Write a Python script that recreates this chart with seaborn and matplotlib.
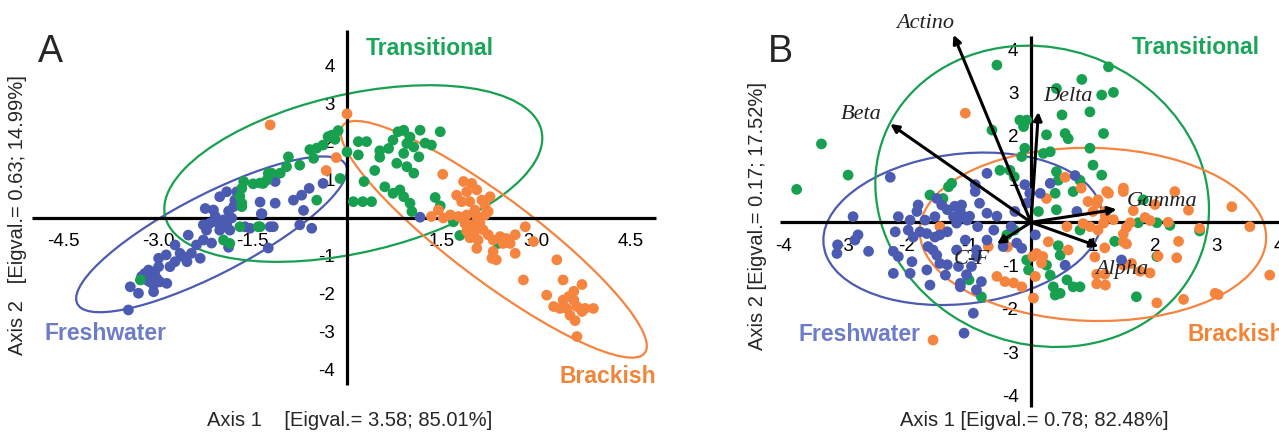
import numpy as np
import pandas as pd
import matplotlib
matplotlib.use("Agg")
import matplotlib.pyplot as plt
from matplotlib.patches import Ellipse
import seaborn as sns

sns.set_theme(style="white")
plt.rcParams['font.family'] = ['Liberation Sans', 'DejaVu Sans']
plt.rcParams['axes.unicode_minus'] = False

GROUPS = ['Freshwater', 'Transitional', 'Brackish']
DOT_COLORS = {'Freshwater': '#4c5bb2', 'Transitional': '#17a04f', 'Brackish': '#f5843f'}
NAME_COLORS = {'Freshwater': '#6d7cc6', 'Transitional': '#1aa558', 'Brackish': '#f0853a'}

# ---------------- Panel A : scores (axis 1, axis 2) ----------------
a_fresh_x = [-3.47, -3.44, -3.31, -3.26, -3.21, -3.15, -3.10, -3.05, -3.02, -3.13, -3.18, -3.07, -2.99,
             -2.97, -3.07, -2.86, -2.99, -2.87, -2.81, -2.73, -2.65, -2.73, -2.52, -2.54, -2.47, -2.60,
             -2.39, -2.33, -2.28, -2.23, -2.28, -2.18, -2.15, -2.25, -2.12, -2.09, -2.04, -2.02, -1.96,
             -1.91, -1.88, -1.83, -1.80, -1.78, -1.91, -2.02, -1.75, -1.86, -1.88, -1.62, -1.54, -1.38,
             -1.36, -1.22, -1.14, -1.25, -1.14, -0.85, -0.72, -0.60, -0.69, -0.75, -0.56, -0.38, -1.17,
             -1.35, 1.16]
a_fresh_y = [-2.42, -1.81, -1.98, -1.54, -1.46, -1.37, -1.54, -1.41, -1.59, -1.68, -1.63, -1.76, -1.28,
             -1.68, -1.94, -1.72, -1.06, -0.97, -1.28, -1.15, -0.93, -0.71, -0.45, -1.15, -0.93, -1.02,
             -0.71, -1.06, -0.58, -0.32, -0.18, -0.14, -0.66, 0.25, 0.21, 0.04, -0.14, -0.32, -0.05,
             -0.18, 0.18, 0.00, 0.30, 0.47, 0.69, 0.56, 0.69, -0.32, -0.77, -0.23, -0.27, 0.42,
             0.11, -0.23, 0.96, -0.79, 0.39, 0.47, 0.60, 0.78, 0.20, -0.18, -0.27, 0.91, -0.23,
             0.11, 0.02]

a_trans_x = [-1.49, -1.38, -1.25, -1.70, -1.67, -1.70, -1.38, -1.96, -1.86, -3.28, -0.14, -0.24, -0.19,
             -0.38, -0.48, -0.59, -0.53, -0.75, -0.93, -0.96, -1.06, -1.27, -1.33, -1.64, -1.67, -0.48,
             -1.41, -0.11, 0.00, 0.18, 0.31, 0.18, 0.10, 0.25, 0.39, 0.27, 0.44, 0.52, 0.52, 0.60,
             0.73, 0.66, 0.73, 0.81, 0.90, 0.95, 1.00, 0.90, 1.06, 1.16, 1.14, 0.95, 1.06, 0.79,
             1.24, 1.48, 0.84, 0.90, 1.00, 1.03, 1.40, 1.48, 1.69, 1.79, 2.40, 1.34, -0.30, -1.20,
             -1.67]
a_trans_y = [0.90, 0.92, 1.17, 0.57, 0.30, -0.23, -0.23, -0.58, -0.67, -1.63, 2.30, 2.18, 2.07,
             1.92, 1.84, 1.80, 1.57, 1.39, 1.61, 1.35, 1.18, 1.00, 0.91, 0.96, 0.39, 0.47,
             -0.23, 1.04, 1.74, 2.01, 2.01, 1.66, 0.43, 0.43, 0.43, 0.96, 1.25, 1.60, 1.77, 0.82,
             0.65, 1.83, 2.05, 2.27, 2.31, 1.96, 2.13, 1.70, 1.87, 2.31, 1.61, 1.35, 1.18, 1.44,
             1.97, 2.27, 0.74, 0.56, 0.39, 0.17, 0.54, 0.32, -0.10, -0.46, -0.67, 1.92, 2.14, 1.18,
             0.78]

a_brack_x = [-1.22, 0.00, -0.17, -0.33, 1.52, 1.85, 1.98, 2.06, 1.90, 1.74, 1.82, 1.95, 2.14, 2.27,
             2.19, 2.03, 2.24, 1.45, 1.34, 1.53, 1.64, 1.77, 1.90, 2.06, 2.19, 1.87, 1.98, 2.11,
             2.16, 2.03, 1.90, 1.95, 2.08, 2.06, 2.24, 2.32, 2.43, 2.53, 2.67, 2.59, 2.48, 2.83,
             2.96, 2.67, 2.32, 2.37, 2.30, 3.33, 2.80, 3.43, 3.17, 3.73, 3.60, 3.52, 3.43, 3.60,
             3.65, 3.28, 3.38, 3.49, 3.78, 3.91, 3.54, 3.62, 3.73, 3.65]
a_brack_y = [2.45, 2.74, 1.59, 1.25, 1.15, 0.96, 0.91, 0.74, 0.69, 0.60, 0.43, 0.43, 0.47, 0.56,
             0.34, 0.21, 0.17, 0.21, 0.04, 0.00, 0.08, 0.04, 0.08, 0.04, 0.08, -0.14, -0.18, -0.14,
             -0.31, -0.35, -0.35, -0.52, -0.58, -0.80, -0.44, -0.58, -0.49, -0.54, -0.44, -0.67, -0.67, -0.23,
             -0.62, -0.93, -0.88, -1.10, -1.06, -1.10, -1.63, -1.63, -2.03, -1.75, -1.93, -2.07, -2.16, -2.16,
             -2.33, -2.33, -2.38, -2.38, -2.38, -2.38, -2.56, -2.70, -2.46, -3.12]

# confidence ellipses: centre and extent matrix (sxx, syy, sxy)
a_ell_center = {'Freshwater': (-2.15, -0.43), 'Transitional': (0.10, 1.17), 'Brackish': (2.33, -0.56)}
a_ell_shape = {'Freshwater': (4.62, 4.20, 3.63), 'Transitional': (9.0, 5.4, 2.8), 'Brackish': (5.9, 9.7, -6.82)}

# ---------------- Panel B : scores ----------------
b_fresh_x = [-2.27, -2.87, -2.79, -2.84, -3.13, -2.62, -2.19, -2.14, -2.22, -2.14, -2.22, -1.95, -1.92,
             -1.98, -1.95, -1.84, -1.82, -1.90, -1.79, -1.71, -1.68, -1.66, -1.58, -1.55, -1.55, -1.52,
             -1.44, -1.35, -1.23, -1.12, -1.25, -1.09, -1.35, -1.47, -1.52, -1.68, -1.47, -1.35, -1.38,
             -1.63, -1.20, -1.06, -0.88, -0.96, -1.14, -0.90, -1.03, -3.12, -0.71, -0.90, -0.10, -0.02,
             0.15, 0.31, 0.71, 0.74, -0.07, -0.26, -0.55, -0.71, -0.83, -0.99, -1.14, -1.20, -0.86,
             -0.60, -0.32, -0.23, -0.15, -0.45, -0.71, -0.88, 0.07, 0.55, 1.46, -1.17, -1.04, -0.80,
             -0.88, -0.93, -1.14, -1.08]
b_fresh_y = [1.04, 0.13, -0.29, -0.41, -0.72, -0.67, -0.22, 0.13, -0.67, -0.79, -1.18, -1.18, -0.91,
             -0.18, 0.05, 0.25, 0.40, -0.34, -0.22, 0.05, -0.26, -0.56, -0.64, -0.34, 0.13, 0.55,
             0.40, 0.29, 0.37, 0.40, 0.13, 0.13, -0.22, -0.29, -0.76, -1.10, -0.95, -0.98, -1.22,
             -1.45, -0.64, -0.41, -0.79, -1.02, -1.41, 0.71, 0.05, -0.52, 1.13, 0.87, 0.87, 0.67,
             0.67, 0.90, 1.08, 0.25, 0.44, 0.25, 0.14, 0.21, 0.44, 0.14, 0.25, -0.02, -0.10,
             -0.18, -0.10, -0.48, -0.60, -0.56, -0.41, -0.64, -0.29, -0.99, -0.87, -1.02, -1.21, -1.37,
             -1.56, -2.10, -1.49, -2.56]

b_trans_x = [-3.38, -2.95, -3.78, -1.63, -1.33, -1.42, -1.00, -0.55, 1.25, 0.82, 0.41, 1.14, 1.33,
             0.95, 0.50, -0.18, -0.07, -0.12, -0.63, 0.25, 0.55, 0.60, 1.17, -0.10, -0.15, 0.20,
             0.31, 0.95, 1.00, 1.14, 0.41, -0.50, -0.34, -0.27, 0.44, 0.68, 0.79, 0.12, 0.39, 0.41,
             -0.27, -0.39, -0.07, -0.04, 0.25, 0.31, 0.44, 0.47, 0.36, 0.58, 0.68, 0.79, 0.47, 0.39,
             0.79, -0.80, -1.28, 1.81, 1.73, 2.03, 2.24, 1.35, 2.03, 1.70, 2.72]
b_trans_y = [1.81, 1.09, 0.76, 0.63, 0.82, 0.55, -1.33, 3.63, 3.59, 3.30, 3.09, 2.94, 3.00,
             2.55, 2.48, 2.36, 2.36, 2.21, 2.13, 2.02, 2.05, 1.93, 2.05, 1.71, 1.52, 1.59,
             1.63, 1.71, 1.32, 1.09, 1.17, 1.20, 1.20, 1.05, 0.97, 0.71, 0.97, 0.25, 0.67, 0.29,
             -0.18, -0.29, -0.87, -1.10, -0.99, -1.22, -0.54, -0.76, -1.49, -1.33, -1.49, -1.49, -1.64, -1.68,
             -0.18, -1.72, 0.90, 0.52, -0.01, -0.01, -0.07, -0.44, -0.79, -1.72, -0.20]

b_brack_x = [-1.06, 0.55, 0.81, 0.92, 1.08, 1.22, 1.49, 1.00, 1.20, 0.95, 1.08, 0.84, 0.58, 0.25,
             0.28, 0.09, 0.17, 0.07, 0.04, -0.55, -0.42, -0.28, -0.15, 0.60, 1.06, 1.20, 1.49, 1.49,
             -0.38, 2.32, 3.24, 2.54, 3.53, 2.72, 3.85, 2.97, 3.02, 2.46, 2.03, 2.38, 2.35, 2.05,
             1.92, 1.76, 1.62, 1.54, 1.49, 1.54, 1.60, 1.65, 1.84, 1.92, 2.21, 2.00, 1.49, 1.25,
             1.06, 1.19, 1.17, 1.33, 1.06, 1.19, 1.03, 1.19, -1.47, -0.69, 0.03, 0.19, -1.58]
b_brack_y = [2.52, 1.04, 0.79, 0.48, 0.52, 0.71, 0.79, 0.25, 0.14, -0.10, -0.18, -0.03, -0.10, 0.55,
             -0.45, -0.72, -0.94, -1.25, -1.75, -1.25, -1.37, -1.40, -1.49, -0.64, -1.42, -1.45, -0.99, -0.45,
             -0.57, 0.71, 0.36, 0.28, -0.10, -0.14, -1.22, -1.64, -1.67, -1.78, -1.86, -0.44, -0.82, -0.78,
             -1.17, -1.13, -0.95, -0.50, -0.27, -0.12, -0.01, 0.27, 0.11, 0.04, 0.00, 0.41, 0.71, 0.67,
             0.44, 0.25, -0.02, 0.06, -1.20, -1.20, -0.80, -0.59, -0.10, -0.56, -0.79, -0.79, -2.72]

b_ell_center = {'Freshwater': (-1.10, -0.15), 'Transitional': (0.18, 0.60), 'Brackish': (1.00, -0.28)}
b_ell_shape = {'Freshwater': (5.06, 3.10, 0.60), 'Transitional': (7.24, 12.11, -0.80), 'Brackish': (7.80, 4.00, -0.20)}

# biplot vectors (panel B)
vec_names = ['Actino', 'Beta', 'Delta', 'Gamma', 'Alpha', 'C-F']
vec_x = [-1.25, -2.27, 0.12, 1.38, 1.09, -0.55]
vec_y = [4.33, 2.27, 2.55, 0.30, -0.56, -0.50]
vec_label_x = [-1.71, -2.74, 0.59, 2.12, 1.46, -0.96]
vec_label_y = [4.60, 2.48, 2.90, 0.48, -1.10, -0.87]

W, H = 1279, 437


def make_df(xs, ys):
    parts = []
    for g, x, y in zip(GROUPS, xs, ys):
        parts.append(pd.DataFrame({'x': x, 'y': y, 'group': g}))
    return parts


def pixel_axes(fig, box, origin, scale):
    left, top, right, bottom = box
    ax = fig.add_axes([left / W, 1 - bottom / H, (right - left) / W, (bottom - top) / H])
    ox, oy = origin
    sx, sy = scale
    ax.set_xlim((left - ox) / sx, (right - ox) / sx)
    ax.set_ylim((oy - bottom) / sy, (oy - top) / sy)
    ax.patch.set_alpha(0)
    return ax


def style_axes(ax, xticks, xlabels, yticks, xbounds, ybounds):
    for s in ['top', 'right']:
        ax.spines[s].set_visible(False)
    for s in ['left', 'bottom']:
        ax.spines[s].set_position(('data', 0))
        ax.spines[s].set_linewidth(2.3)
        ax.spines[s].set_color('black')
        ax.spines[s].set_capstyle('butt')
    ax.spines['bottom'].set_bounds(*xbounds)
    ax.spines['left'].set_bounds(*ybounds)
    ax.set_xticks(xticks)
    ax.set_xticklabels(xlabels)
    ax.set_yticks(yticks)
    ax.set_yticklabels([str(v) for v in yticks])
    ax.tick_params(axis='x', length=0, pad=11, labelsize=13.5, colors='black')
    ax.tick_params(axis='y', length=0, pad=9, labelsize=13.5, colors='black')
    ax.set_xlabel('')
    ax.set_ylabel('')
    ax.grid(False)


def draw_ellipses(ax, centers, shapes):
    for g in GROUPS:
        sxx, syy, sxy = shapes[g]
        vals, vecs = np.linalg.eigh(np.array([[sxx, sxy], [sxy, syy]]))
        angle = np.degrees(np.arctan2(vecs[1, 1], vecs[0, 1]))
        e = Ellipse(centers[g], 2 * np.sqrt(vals[1]), 2 * np.sqrt(vals[0]), angle=angle,
                    fill=False, ec=DOT_COLORS[g], lw=1.6, zorder=1)
        ax.add_patch(e)


fig = plt.figure(figsize=(W / 100, H / 100), dpi=100)
fig.patch.set_facecolor('white')

# ---- Panel A ----
axA = pixel_axes(fig, (30, 5, 672, 405), (347, 218), (63, 38))
fa, ta, ba = make_df([a_fresh_x, a_trans_x, a_brack_x], [a_fresh_y, a_trans_y, a_brack_y])
dfA = pd.concat([fa, ta, ba], ignore_index=True)
draw_ellipses(axA, a_ell_center, a_ell_shape)
sns.scatterplot(data=dfA, x='x', y='y', hue='group', palette=DOT_COLORS, s=60, linewidth=0,
                legend=False, ax=axA, zorder=3)
xtA = [-4.5, -3.0, -1.5, 1.5, 3.0, 4.5]
style_axes(axA, xtA, [f'{v:.1f}' for v in xtA], [-4, -3, -2, -1, 1, 2, 3, 4],
           (-5.0, 4.9), (-4.4, 4.95))
axA.text(1.32, 4.47, 'Transitional', color=NAME_COLORS['Transitional'], fontsize=16.5,
         fontweight='bold', ha='center', va='center')
axA.text(-3.83, -3.05, 'Freshwater', color=NAME_COLORS['Freshwater'], fontsize=16.5,
         fontweight='bold', ha='center', va='center')
axA.text(4.14, -4.16, 'Brackish', color=NAME_COLORS['Brackish'], fontsize=16.5,
         fontweight='bold', ha='center', va='center', clip_on=False)

# ---- Panel B ----
axB = pixel_axes(fig, (700, 5, 1279, 412), (1031, 222.3), (62, 43.3))
fb, tb, bb = make_df([b_fresh_x, b_trans_x, b_brack_x], [b_fresh_y, b_trans_y, b_brack_y])
dfB = pd.concat([tb, bb, fb], ignore_index=True)
draw_ellipses(axB, b_ell_center, b_ell_shape)
sns.scatterplot(data=dfB, x='x', y='y', hue='group', palette=DOT_COLORS, s=60, linewidth=0,
                legend=False, ax=axB, zorder=3)
xtB = [-4, -3, -2, -1, 1, 2, 3, 4]
style_axes(axB, xtB, [str(v) for v in xtB], [-4, -3, -2, -1, 1, 2, 3, 4],
           (-4.05, 4.1), (-4.27, 4.3))
for name, vx, vy, lx, ly in zip(vec_names, vec_x, vec_y, vec_label_x, vec_label_y):
    axB.annotate('', xy=(vx, vy), xytext=(0, 0),
                 arrowprops=dict(arrowstyle='-|>', color='black', lw=2.2, mutation_scale=12,
                                 shrinkA=0, shrinkB=0), zorder=5)
    axB.text(lx, ly, name, fontsize=16, fontstyle='italic', ha='center', va='center',
             family=['Liberation Serif', 'DejaVu Serif'], color='#222222', zorder=6)
axB.text(2.65, 4.03, 'Transitional', color=NAME_COLORS['Transitional'], fontsize=16.5,
         fontweight='bold', ha='center', va='center')
axB.text(-2.76, -2.6, 'Freshwater', color=NAME_COLORS['Freshwater'], fontsize=16.5,
         fontweight='bold', ha='center', va='center')
axB.text(2.53, -2.6, 'Brackish', color=NAME_COLORS['Brackish'], fontsize=16.5,
         fontweight='bold', ha='left', va='center', clip_on=False)

# panel letters and axis titles
fig.text(38 / W, 1 - 62 / H, 'A', fontsize=27, va='baseline', ha='left')
fig.text(768 / W, 1 - 62 / H, 'B', fontsize=27, va='baseline', ha='left')
fig.text(350 / W, 1 - 421 / H, 'Axis 1    [Eigval.= 3.58; 85.01%]', fontsize=14.5,
         ha='center', va='center')
fig.text(18 / W, 1 - 215 / H, 'Axis 2   [Eigval.= 0.63; 14.99%]', fontsize=14.5,
         ha='center', va='center', rotation=90)
fig.text(1034 / W, 1 - 421 / H, 'Axis 1 [Eigval.= 0.78; 82.48%]', fontsize=14.5,
         ha='center', va='center')
fig.text(757 / W, 1 - 216 / H, 'Axis 2 [Eigval.= 0.17; 17.52%]', fontsize=14.5,
         ha='center', va='center', rotation=90)

fig.savefig('out.png', dpi=100, facecolor='white')
